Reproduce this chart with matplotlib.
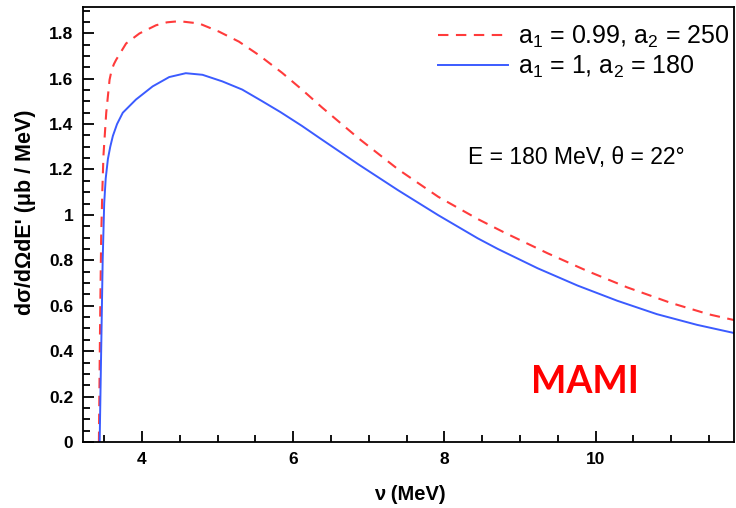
import matplotlib.pyplot as plt
from matplotlib.ticker import MultipleLocator

plt.rcParams['font.family'] = ['Liberation Sans', 'DejaVu Sans']
plt.rcParams['mathtext.fontset'] = 'custom'
plt.rcParams['mathtext.rm'] = 'Liberation Sans'
plt.rcParams['mathtext.it'] = 'Liberation Sans'

# a1 = 0.99, a2 = 250 (dashed red)
nu_red = [3.43, 3.445, 3.46, 3.475, 3.49, 3.527, 3.571, 3.60, 3.63, 3.658, 3.79,
          3.966, 4.185, 4.33, 4.492, 4.755, 5.019, 5.282, 5.545, 5.852, 6.115,
          6.378, 6.865, 7.39, 7.917, 8.44, 8.795, 9.365, 9.89, 10.417, 10.99,
          11.5, 11.83]
xs_red = [0.0, 0.5, 0.9, 1.1, 1.26, 1.45, 1.595, 1.64, 1.665, 1.683, 1.755,
          1.799, 1.835, 1.848, 1.853, 1.843, 1.807, 1.763, 1.704, 1.626, 1.552,
          1.474, 1.337, 1.20, 1.08, 0.982, 0.922, 0.831, 0.753, 0.681, 0.613,
          0.562, 0.537]

# a1 = 1, a2 = 180 (solid blue)
nu_blue = [3.44, 3.46, 3.48, 3.50, 3.52, 3.549, 3.58, 3.615, 3.67, 3.746, 3.92,
           4.141, 4.36, 4.579, 4.80, 5.062, 5.325, 5.588, 5.83, 6.115, 6.36,
           6.865, 7.39, 7.917, 8.44, 8.707, 9.233, 9.76, 10.286, 10.81, 11.34,
           11.83]
xs_blue = [0.0, 0.4, 0.8, 1.05, 1.16, 1.246, 1.30, 1.348, 1.40, 1.450, 1.508,
           1.566, 1.607, 1.624, 1.617, 1.588, 1.552, 1.501, 1.453, 1.392, 1.336,
           1.222, 1.108, 0.999, 0.897, 0.850, 0.765, 0.689, 0.622, 0.563, 0.516,
           0.48]

fig = plt.figure(figsize=(7.36, 5.08), dpi=100)
ax = fig.add_axes([0.1128, 0.1299, 0.8845, 0.8561])

ax.plot(nu_red, xs_red, color='#ff3b3b', lw=1.5, dashes=(5, 3.6),
        label='a$_1$ = 0.99, a$_2$ = 250')
ax.plot(nu_blue, xs_blue, color='#3b5bff', lw=1.4,
        label='a$_1$ = 1, a$_2$ = 180')

ax.set_xlim(3.22, 11.83)
ax.set_ylim(0, 1.915)
ax.xaxis.set_major_locator(MultipleLocator(2))
ax.xaxis.set_minor_locator(MultipleLocator(0.5))
ax.yaxis.set_major_locator(MultipleLocator(0.2))
ax.yaxis.set_minor_locator(MultipleLocator(0.05))
ax.yaxis.set_major_formatter(lambda v, p: '0' if abs(v) < 1e-9 else ('1' if abs(v - 1) < 1e-9 else f'{v:.1f}'))
ax.tick_params(which='both', direction='in', top=False, right=False, width=1.3)
ax.tick_params(which='major', length=8, labelsize=12.5, pad=7)
ax.tick_params(which='minor', length=5)
for lab in ax.get_xticklabels() + ax.get_yticklabels():
    lab.set_fontweight('bold')
for s in ax.spines.values():
    s.set_linewidth(1.3)

fig.text(0.034, 0.583, "dσ/dΩdE' (μb / MeV)", rotation=90, ha='center', va='center',
         fontsize=15.5, fontweight='bold')
fig.text(0.557, 0.026, 'ν (MeV)', ha='center', va='center', fontsize=14.5, fontweight='bold')

ax.legend(loc='upper right', bbox_to_anchor=(1.018, 1.0), frameon=False, fontsize=18,
          handlelength=2.8, handletextpad=0.4, labelspacing=0.15, borderpad=0.15)

ax.text(0.757, 0.655, 'E = 180 MeV, θ = 22°', transform=ax.transAxes, ha='center',
        va='center', fontsize=16.5)
ax.text(0.771, 0.138, 'MAMI', transform=ax.transAxes, ha='center', va='center',
        fontsize=27, fontweight='bold', color='#ff0000', family=['Lato', 'DejaVu Sans'])

fig.savefig('out.png', dpi=100)
